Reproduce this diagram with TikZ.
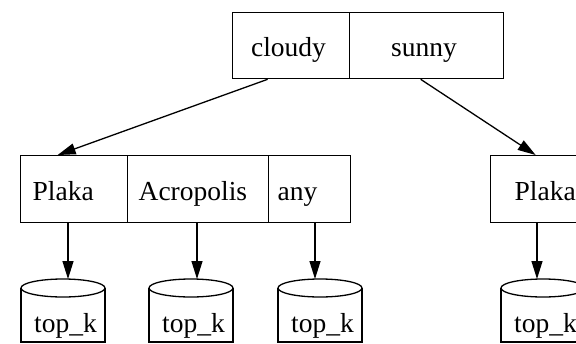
\documentclass[tikz,border=0pt]{standalone}
\usepackage{fontspec}
\setmainfont{Liberation Serif}
\usetikzlibrary{arrows.meta}
\begin{document}
\begin{tikzpicture}[x=1pt,y=-1pt,line width=1.3pt,
  fld/.style={draw,rectangle,inner sep=0pt,anchor=north west},
  lbl/.style={inner sep=0pt,font=\fontsize{27.5}{30}\selectfont},
  arr/.style={-{Triangle[length=18pt,width=11pt]}},
  cyl/.style={draw}]
\useasboundingbox (0,0) rectangle (576,343);
\clip (0,0) rectangle (576,343);
% top record
\node[fld,minimum width=117pt,minimum height=66pt] (cloudy) at (232,12) {};
\node[fld,minimum width=154pt,minimum height=66pt] (sunny) at (349,12) {};
\node[lbl,anchor=base] (tcloudy) at (288.5,56) {cloudy};
\node[lbl,anchor=base] (tsunny) at (424,56) {sunny};
% left record
\node[fld,minimum width=107pt,minimum height=67pt] (plakaL) at (20,155) {};
\node[fld,minimum width=141pt,minimum height=67pt] (acro) at (127,155) {};
\node[fld,minimum width=82pt,minimum height=67pt] (any) at (268,155) {};
\node[lbl,anchor=base west] (tplakaL) at (32,200) {Plaka};
\node[lbl,anchor=base west] (tacro) at (138,200) {Acropolis};
\node[lbl,anchor=base west] (tany) at (277,200) {any};
% right record
\node[fld,minimum width=120pt,minimum height=67pt] (plakaR) at (490,155) {};
\node[lbl,anchor=base west] (tplakaR) at (514,200) {Plaka};
% cylinders
\foreach \cx/\nm in {63/c1,191/c2,320/c3,543/c4}{
  \draw[cyl] (\cx-42,288) -- (\cx-42,342) -- (\cx+42,342) -- (\cx+42,288);
  \draw[cyl] (\cx,288) ellipse (42 and 9);
  \node[lbl,anchor=base] (t\nm) at (\cx+2.5,332) {top\_k};
}
\coordinate (c1) at (68,279);
\coordinate (c2) at (197,279);
\coordinate (c3) at (315,279);
\coordinate (c4) at (537,279);
% connectors
\draw[arr] ([xshift=-23.5pt]cloudy.south) -- ([xshift=-16.5pt]plakaL.north);
\draw[arr] ([xshift=-6pt]sunny.south) -- ([xshift=-15pt]plakaR.north);
\draw[arr] (plakaL.south -| c1) -- (c1);
\draw[arr] (acro.south -| c2) -- (c2);
\draw[arr] (any.south -| c3) -- (c3);
\draw[arr] (plakaR.south -| c4) -- (c4);
\end{tikzpicture}
\end{document}
